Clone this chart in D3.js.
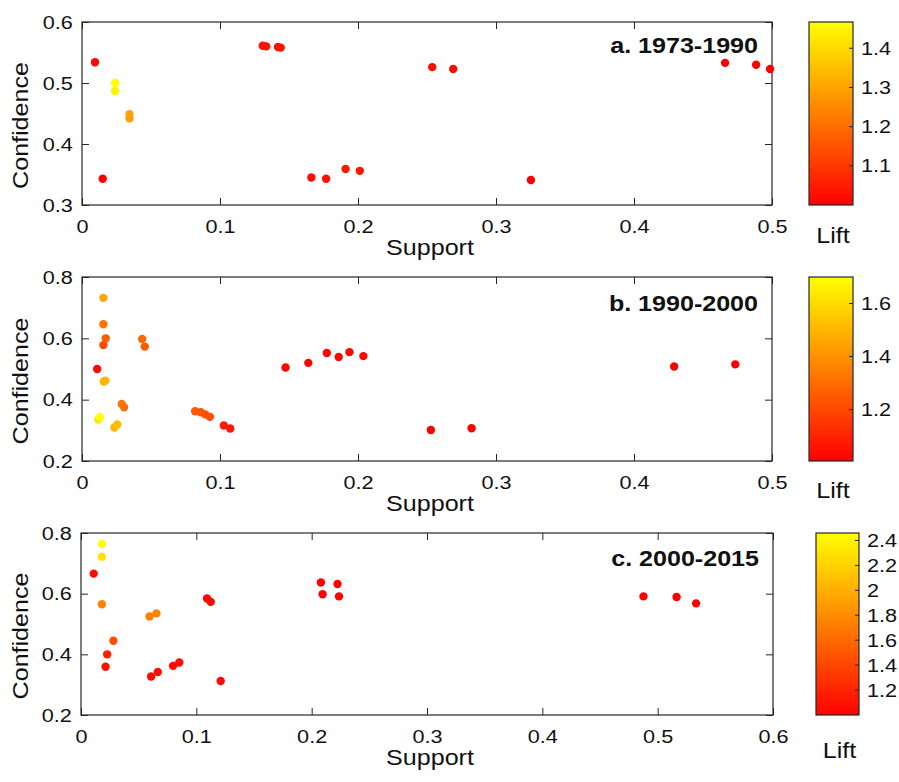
<!DOCTYPE html>
<html>
<head>
<meta charset="utf-8">
<script src="https://cdn.jsdelivr.net/npm/d3@7"></script>
<style>
  html, body { margin: 0; padding: 0; background: #fff; }
  text { font-family: "Liberation Sans", Arial, sans-serif; fill: #111; }
</style>
</head>
<body>
<script>
// ---------------- DATA ----------------
const titles = ["a. 1973-1990", "b. 1990-2000", "c. 2000-2015"];

const supportA = [0.0094, 0.024, 0.024, 0.0344, 0.0344, 0.015, 0.131, 0.1335, 0.142, 0.144,
                  0.2538, 0.269, 0.1662, 0.1769, 0.191, 0.2013, 0.3253, 0.466, 0.4885, 0.4986];
const confA    = [0.534, 0.500, 0.487, 0.449, 0.442, 0.343, 0.561, 0.560, 0.559, 0.558,
                  0.526, 0.523, 0.345, 0.343, 0.359, 0.356, 0.341, 0.533, 0.530, 0.523];
const liftA    = [1.01, 1.467, 1.44, 1.30, 1.29, 1.00, 1.03, 1.03, 1.03, 1.03,
                  1.02, 1.02, 1.02, 1.02, 1.04, 1.04, 1.00, 1.00, 1.00, 1.00];

const supportB = [0.0155, 0.0155, 0.0172, 0.0155, 0.011, 0.0158, 0.017, 0.0118, 0.013, 0.0235,
                  0.0256, 0.0288, 0.0305, 0.0436, 0.0455, 0.082, 0.0861, 0.0893, 0.0927, 0.1028,
                  0.1074, 0.1475, 0.164, 0.1774, 0.186, 0.1938, 0.2039, 0.2528, 0.2823, 0.4291, 0.4734];
const confB    = [0.732, 0.646, 0.600, 0.578, 0.500, 0.459, 0.462, 0.335, 0.343, 0.309,
                  0.319, 0.386, 0.375, 0.598, 0.573, 0.362, 0.359, 0.352, 0.344, 0.316,
                  0.306, 0.505, 0.520, 0.552, 0.539, 0.555, 0.542, 0.301, 0.307, 0.508, 0.515];
const liftB    = [1.46, 1.32, 1.25, 1.21, 1.04, 1.49, 1.50, 1.63, 1.70, 1.50,
                  1.52, 1.32, 1.31, 1.28, 1.25, 1.24, 1.24, 1.23, 1.22, 1.08,
                  1.07, 1.02, 1.01, 1.02, 1.02, 1.02, 1.02, 1.01, 1.01, 1.006, 1.006];

const supportC = [0.0181, 0.0181, 0.011, 0.0181, 0.0281, 0.0227, 0.0213, 0.0594, 0.0654, 0.0608,
                  0.0666, 0.0798, 0.0852, 0.1093, 0.1125, 0.1211, 0.208, 0.2224, 0.2095, 0.2237,
                  0.4877, 0.5164, 0.5333];
const confC    = [0.764, 0.722, 0.666, 0.565, 0.445, 0.400, 0.359, 0.525, 0.535, 0.327,
                  0.342, 0.362, 0.373, 0.584, 0.573, 0.312, 0.637, 0.632, 0.598, 0.591,
                  0.591, 0.589, 0.568];
const liftC    = [2.46, 2.30, 1.05, 1.75, 1.45, 1.18, 1.08, 1.72, 1.74, 1.06,
                  1.08, 1.07, 1.08, 1.04, 1.04, 1.05, 1.02, 1.02, 1.02, 1.02,
                  1.00, 1.00, 1.00];

const xTicksAB = [0, 0.1, 0.2, 0.3, 0.4, 0.5];
const xTicksC  = [0, 0.1, 0.2, 0.3, 0.4, 0.5, 0.6];
const yTicksA  = [0.3, 0.4, 0.5, 0.6];
const yTicksBC = [0.2, 0.4, 0.6, 0.8];
const liftTicksA = [1.1, 1.2, 1.3, 1.4];
const liftTicksB = [1.2, 1.4, 1.6];
const liftTicksC = [1.2, 1.4, 1.6, 1.8, 2.0, 2.2, 2.4];
const liftDomainA = [1.0, 1.467];
const liftDomainB = [1.006, 1.70];
const liftDomainC = [1.0, 2.46];

// ---------------- LAYOUT ----------------
const SX = 1.14;
const panels = [
  { s: supportA, c: confA, l: liftA, xd: [0, 0.5], yd: [0.3, 0.6], xt: xTicksAB, yt: yTicksA,
    lt: liftTicksA, ld: liftDomainA, title: titles[0],
    x0: 82, x1: 772, y0: 22, y1: 205, cbx: 809, cbw: 44, liftY: 243, titleY: 53 },
  { s: supportB, c: confB, l: liftB, xd: [0, 0.5], yd: [0.2, 0.8], xt: xTicksAB, yt: yTicksBC,
    lt: liftTicksB, ld: liftDomainB, title: titles[1],
    x0: 82, x1: 772, y0: 277, y1: 461, cbx: 809, cbw: 44, liftY: 498, titleY: 311 },
  { s: supportC, c: confC, l: liftC, xd: [0, 0.6], yd: [0.2, 0.8], xt: xTicksC, yt: yTicksBC,
    lt: liftTicksC, ld: liftDomainC, title: titles[2],
    x0: 81, x1: 773, y0: 533, y1: 715, cbx: 816, cbw: 43, liftY: 758, titleY: 566 }
];

const svg = d3.select("body").append("svg").attr("width", 899).attr("height", 782);
svg.append("rect").attr("width", 899).attr("height", 782).attr("fill", "#fff");

const defs = svg.append("defs");
const grad = defs.append("linearGradient").attr("id", "autumn")
  .attr("x1", 0).attr("y1", 1).attr("x2", 0).attr("y2", 0);
grad.append("stop").attr("offset", "0%").attr("stop-color", "#ff0000");
grad.append("stop").attr("offset", "100%").attr("stop-color", "#ffff00");

const fmt = d => d3.format("~g")(d);
const autumn = d3.interpolateRgb("#ff0000", "#ffff00");

function styleAxis(g) {
  g.select(".domain").remove();
  g.selectAll(".tick line").attr("stroke", "#262626").attr("stroke-width", 1);
  g.selectAll(".tick text").attr("font-size", 19).attr("fill", "#111")
    .attr("font-family", '"Liberation Sans", Arial, sans-serif')
    .attr("transform", `scale(${SX},1)`);
}

panels.forEach(p => {
  const g = svg.append("g");
  const x = d3.scaleLinear().domain(p.xd).range([p.x0, p.x1]);
  const y = d3.scaleLinear().domain(p.yd).range([p.y1, p.y0]);
  const t = d3.scaleLinear().domain(p.ld).range([0, 1]).clamp(true);

  // axes
  g.append("g").attr("transform", `translate(0,${p.y1})`)
    .call(d3.axisBottom(x).tickValues(p.xt).tickFormat(fmt).tickSizeInner(-7).tickSizeOuter(0).tickPadding(15))
    .call(styleAxis);
  g.append("g").attr("transform", `translate(0,${p.y0})`)
    .call(d3.axisTop(x).tickValues(p.xt).tickFormat("").tickSizeInner(-7).tickSizeOuter(0))
    .call(styleAxis);
  g.append("g").attr("transform", `translate(${p.x0},0)`)
    .call(d3.axisLeft(y).tickValues(p.yt).tickFormat(fmt).tickSizeInner(-7).tickSizeOuter(0).tickPadding(8))
    .call(styleAxis);
  g.append("g").attr("transform", `translate(${p.x1},0)`)
    .call(d3.axisRight(y).tickValues(p.yt).tickFormat("").tickSizeInner(-7).tickSizeOuter(0))
    .call(styleAxis);

  g.append("rect").attr("x", p.x0).attr("y", p.y0)
    .attr("width", p.x1 - p.x0).attr("height", p.y1 - p.y0)
    .attr("fill", "none").attr("stroke", "#262626").attr("stroke-width", 1.2);

  // points
  const pts = p.s.map((s, i) => ({ s, c: p.c[i], l: p.l[i] }));
  g.append("g").selectAll("circle").data(pts).join("circle")
    .attr("cx", d => x(d.s)).attr("cy", d => y(d.c)).attr("r", 4.2)
    .attr("fill", d => autumn(t(d.l)));

  // title
  g.append("text").attr("transform", `translate(${p.x1 - 14},${p.titleY}) scale(${SX},1)`)
    .attr("text-anchor", "end").attr("font-weight", "bold").attr("font-size", 22)
    .text(p.title);

  // axis labels
  g.append("text").attr("transform", `translate(${(p.x0 + p.x1) / 2 + 3},${p.y1 + 50}) scale(${SX},1)`)
    .attr("text-anchor", "middle").attr("font-size", 22).text("Support");
  g.append("text").attr("transform", `translate(28,${(p.y0 + p.y1) / 2 + 12}) rotate(-90) scale(${SX},1)`)
    .attr("text-anchor", "middle").attr("font-size", 22).text("Confidence");

  // colorbar
  const cy = d3.scaleLinear().domain(p.ld).range([p.y1, p.y0]);
  const cb = svg.append("g");
  cb.append("rect").attr("x", p.cbx).attr("y", p.y0).attr("width", p.cbw).attr("height", p.y1 - p.y0)
    .attr("fill", "url(#autumn)").attr("stroke", "#262626").attr("stroke-width", 1.2);
  cb.selectAll("line.ct").data(p.lt).join("line").attr("class", "ct")
    .attr("x1", p.cbx + p.cbw - 4).attr("x2", p.cbx + p.cbw)
    .attr("y1", d => cy(d)).attr("y2", d => cy(d))
    .attr("stroke", "#262626").attr("stroke-width", 1);
  cb.selectAll("text.cl").data(p.lt).join("text").attr("class", "cl")
    .attr("transform", d => `translate(${p.cbx + p.cbw + 8},${cy(d)}) scale(${SX},1)`)
    .attr("dominant-baseline", "central").attr("font-size", 19)
    .text(d => fmt(d));
  cb.append("text").attr("transform", `translate(${p.cbx + p.cbw / 2 + 2},${p.liftY}) scale(${SX},1)`)
    .attr("text-anchor", "middle").attr("font-size", 22).text("Lift");
});
</script>
</body>
</html>
